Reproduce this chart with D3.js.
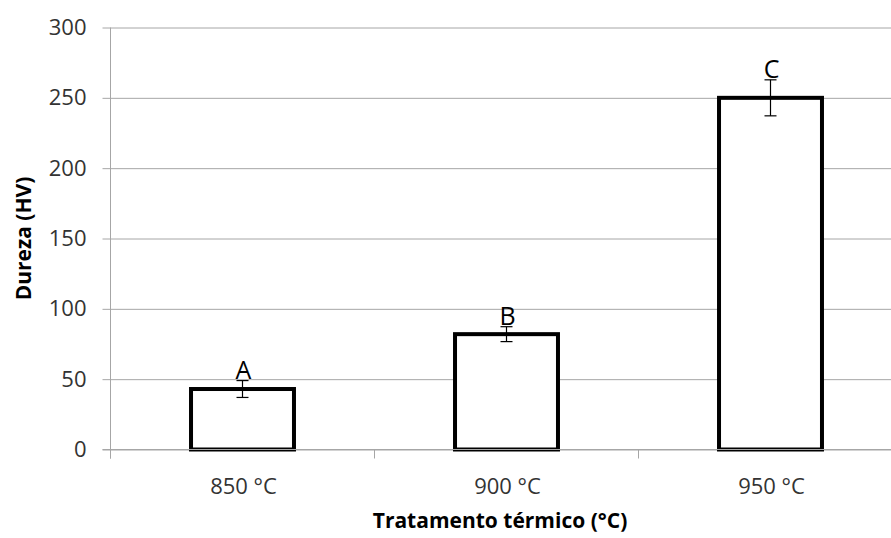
<!DOCTYPE html>
<html>
<head>
<meta charset="utf-8">
<script src="https://cdn.jsdelivr.net/npm/d3@7"></script>
<style>
  html, body { margin: 0; padding: 0; background: #fff; }
  svg { display: block; font-family: "Open Sans", sans-serif; }
</style>
</head>
<body>
<svg id="chart" width="891" height="538"></svg>
<script>
// Hardness by heat-treatment temperature
const categories = ["850 °C", "900 °C", "950 °C"];
const hardness = [43, 82, 250];
const errors = [6, 5.3, 12.8];
const groups = ["A", "B", "C"];
const yTicks = [0, 50, 100, 150, 200, 250, 300];

const svg = d3.select("#chart");
const plotLeft = 110.5, plotRight = 902.5, plotTop = 27.5, plotBottom = 449.5;

const x = d3.scaleBand().domain(categories).range([plotLeft, plotRight]).padding(0);
const y = d3.scaleLinear().domain([0, 300]).range([plotBottom, plotTop]);
const barW = x.bandwidth() * 0.39;

// horizontal gridlines with outside tick marks
const yAxis = d3.axisLeft(y).tickValues(yTicks).tickSize(-(plotRight - plotLeft)).tickPadding(24);
const gy = svg.append("g").attr("transform", `translate(${plotLeft},0)`).call(yAxis);
gy.select(".domain").remove();
gy.selectAll(".tick line").attr("stroke", "#a6a6a6").attr("x1", -8);
gy.selectAll(".tick text")
  .attr("font-size", 22).attr("fill", "#333").attr("font-family", "Open Sans");

// vertical axis line
svg.append("line")
  .attr("x1", plotLeft).attr("x2", plotLeft).attr("y1", plotTop).attr("y2", plotBottom + 9)
  .attr("stroke", "#a6a6a6");

// bars
const bars = svg.append("g");
bars.selectAll("rect").data(categories).join("rect")
  .attr("x", (d) => x(d) + x.bandwidth() / 2 - barW / 2)
  .attr("y", (d, i) => y(hardness[i]))
  .attr("width", barW)
  .attr("height", (d, i) => y(0) - y(hardness[i]))
  .attr("fill", "#fff").attr("stroke", "#000").attr("stroke-width", 4);

// x axis line and category boundary ticks
svg.append("line")
  .attr("x1", plotLeft - 8).attr("x2", 891).attr("y1", plotBottom).attr("y2", plotBottom)
  .attr("stroke", "#a6a6a6");
const bounds = categories.map((c) => x(c)).concat([x(categories[2]) + x.bandwidth()]);
svg.append("g").selectAll("line").data(bounds).join("line")
  .attr("x1", (d) => d).attr("x2", (d) => d)
  .attr("y1", plotBottom).attr("y2", plotBottom + 9)
  .attr("stroke", "#a6a6a6");

// category labels
svg.append("g").selectAll("text").data(categories).join("text")
  .attr("x", (d) => x(d) + x.bandwidth() / 2 + 1)
  .attr("y", 494)
  .attr("text-anchor", "middle")
  .attr("font-size", 22).attr("fill", "#333")
  .text((d) => d);

// error bars
const eb = svg.append("g").attr("stroke", "#000").attr("stroke-width", 1.2);
categories.forEach((c, i) => {
  const cx = x(c) + x.bandwidth() / 2;
  const y1 = y(hardness[i] + errors[i]), y2 = y(hardness[i] - errors[i]);
  eb.append("line").attr("x1", cx).attr("x2", cx).attr("y1", y1).attr("y2", y2);
  eb.append("line").attr("x1", cx - 6).attr("x2", cx + 6).attr("y1", y1).attr("y2", y1);
  eb.append("line").attr("x1", cx - 6).attr("x2", cx + 6).attr("y1", y2).attr("y2", y2);
});

// significance group letters
svg.append("g").selectAll("text").data(groups).join("text")
  .attr("x", (d, i) => x(categories[i]) + x.bandwidth() / 2 + 1)
  .attr("y", (d, i) => y(hardness[i] + errors[i]) - 2)
  .attr("text-anchor", "middle")
  .attr("font-size", 25).attr("fill", "#000")
  .text((d) => d);

// axis titles
svg.append("text")
  .attr("x", 500).attr("y", 528)
  .attr("text-anchor", "middle")
  .attr("font-size", 21).attr("font-weight", "bold").attr("fill", "#000")
  .text("Tratamento térmico (°C)");

svg.append("text")
  .attr("transform", `translate(31, ${(plotTop + plotBottom) / 2}) rotate(-90)`)
  .attr("text-anchor", "middle")
  .attr("font-size", 21).attr("font-weight", "bold").attr("fill", "#000")
  .text("Dureza (HV)");
</script>
</body>
</html>
